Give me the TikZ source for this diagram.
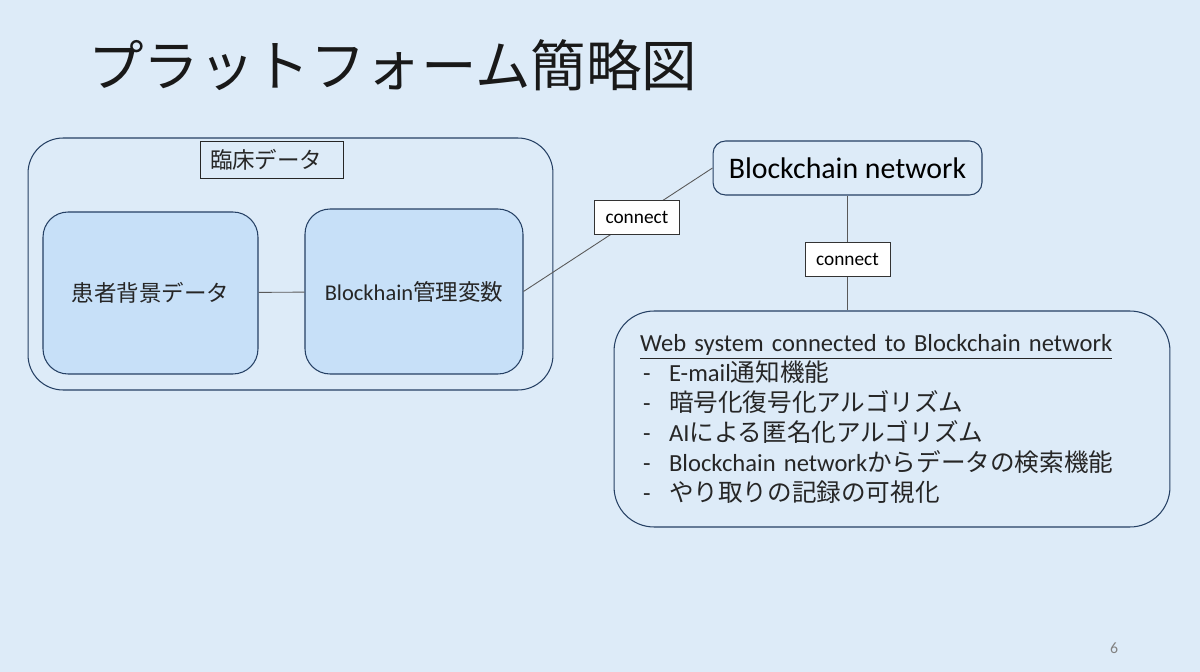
\documentclass[tikz,border=0pt]{standalone}
\usepackage{fontspec}
\setmainfont{Carlito}
\newfontfamily\jp{Noto Sans CJK JP}
\usepackage{xcolor}
\definecolor{cfond}{RGB}{221,235,248}
\definecolor{cboite}{RGB}{199,224,248}
\definecolor{cbord}{RGB}{37,64,100}
\definecolor{cgris}{RGB}{130,130,130}
\newcommand\puce{\makebox[0.58cm][l]{\hspace{0.06cm}-}}

\begin{document}
\begin{tikzpicture}[x=0.02cm, y=-0.02cm,
  cadre/.style={draw=cbord, line width=0.6pt, rounded corners=#1},
  texte/.style={font=\fontsize{12.8}{17}\selectfont, text=black!85},
  lien/.style={draw=black!65, line width=0.5pt},
  etiq/.style={draw=black!80, fill=white, line width=0.5pt, font=\fontsize{11}{12}\selectfont,
    minimum width=1.7cm, minimum height=0.68cm, inner sep=0pt}]
\useasboundingbox[fill=cfond] (0,0) rectangle (1200,672);
% titre
\node[anchor=west, inner sep=0pt, font=\jp\fontsize{31.6}{32}\selectfont, text=black!90] (titre) at (88,65) {プラットフォーム簡略図};
% donnees cliniques
\node[cadre=0.7cm, minimum width=10.5cm, minimum height=5.04cm] (clin) at (290.5,264) {};
\node[draw=black!85, line width=0.5pt, fill=cfond, minimum height=0.74cm, inner xsep=0.2cm,
  text width=2.46cm, align=left, texte] (clintitre) at (271.5,159.5) {\jp 臨床データ};
\node[cadre=0.5cm, fill=cboite, minimum width=4.3cm, minimum height=3.24cm, texte] (patient) at (150.5,293) {\jp 患者背景データ};
\node[cadre=0.5cm, fill=cboite, minimum width=4.36cm, minimum height=3.3cm, texte] (bcvar) at (414,291.5) {Blockhain{\jp 管理変数}};
% reseau
\node[cadre=0.25cm, minimum width=5.38cm, minimum height=1.08cm, font=\fontsize{17}{20}\selectfont] (bcnet) at (847.5,168) {Blockchain network};
\node[cadre=0.8cm, minimum height=4.32cm, text width=10.08cm, inner xsep=0.52cm, align=left, texte,
  font=\fontsize{14}{17}\selectfont] (web) at (892,419) {%
  \underline{Web system connected to Blockchain network}\\
  \puce E-mail{\jp 通知機能}\\
  \puce{\jp 暗号化復号化アルゴリズム}\\
  \puce AI{\jp による匿名化アルゴリズム}\\
  \puce Blockchain network{\jp からデータの検索機能}\\
  \puce{\jp やり取りの記録の可視化}};
% liens
\draw[lien] (patient) -- (bcvar);
\draw[lien] (bcvar.east) -- (bcnet.west) node[etiq, pos=0.6] (c1) {connect};
\draw[lien] (bcnet.south) -- (bcnet.south |- web.north) node[etiq, pos=0.56] (c2) {connect};
\node[text=cgris, font=\fontsize{9}{10}\selectfont] (num) at (1114,648) {6};
\end{tikzpicture}
\end{document}
